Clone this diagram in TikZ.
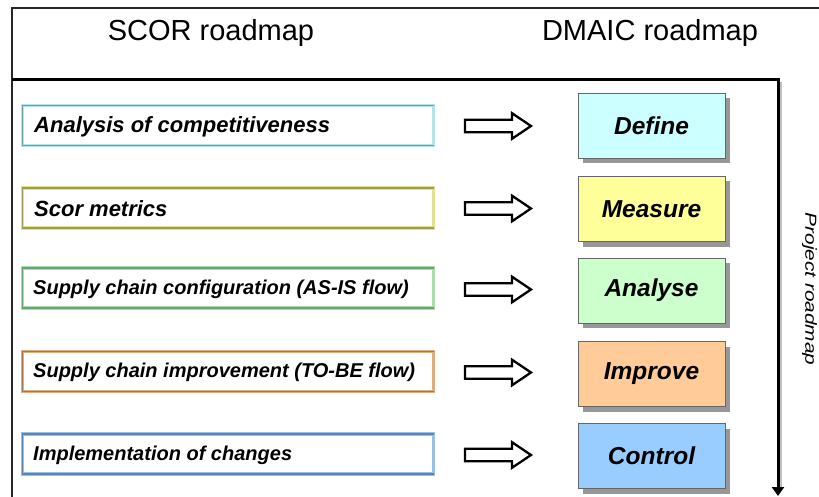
\documentclass[tikz,border=0pt]{standalone}
\usepackage{fontspec}
\setmainfont{Liberation Sans}
\usetikzlibrary{shadows,arrows.meta}
\definecolor{dA}{HTML}{6E9FA3}\definecolor{lA}{HTML}{B4E4E8}
\definecolor{dB}{HTML}{9C9C5A}\definecolor{lB}{HTML}{E2E28E}
\definecolor{dC}{HTML}{6AA276}\definecolor{lC}{HTML}{ACDCAC}
\definecolor{dD}{HTML}{A27654}\definecolor{lD}{HTML}{DCAE80}
\definecolor{dE}{HTML}{5A86B4}\definecolor{lE}{HTML}{98C0E6}
\definecolor{fA}{HTML}{CCFFFF}\definecolor{fB}{HTML}{FFFF99}
\definecolor{fC}{HTML}{CCFFCC}\definecolor{fD}{HTML}{FFCC99}
\definecolor{fE}{HTML}{99CCFF}
\tikzset{
  scorbox/.style={draw=#1, line width=3.5pt, fill=white, minimum width=411pt, minimum height=40pt, inner sep=0pt},
  scortext/.style={anchor=west, inner sep=0pt, font=\fontsize{#1}{#1}\selectfont\bfseries\itshape},
  dmaicbox/.style={draw=black!60, line width=1pt, fill=#1, minimum width=147pt, minimum height=65pt, inner sep=0pt,
    font=\fontsize{24.5}{26}\selectfont\bfseries\itshape,
    drop shadow={shadow xshift=5pt, shadow yshift=-5pt, fill=black!45, opacity=0.9}},
  hollowarrow/.style={draw=black, line width=2.3pt, fill=white, line join=miter},
  header/.style={font=\fontsize{29}{31}\selectfont},
}
\begin{document}
\begin{tikzpicture}[x=1pt,y=-1pt]
\useasboundingbox (0,0) rectangle (819,497);
\fill[white] (0,0) rectangle (819,497);
% outer frame
\draw[line width=1.5pt, black!85] (12,510) -- (12,8) -- (830,8);
% headers
\node[header] (h1) at (211,33) {SCOR roadmap};
\node[header] (h2) at (650,33) {DMAIC roadmap};
% project roadmap line
\draw[line width=2pt, black!25] (780.5,82) -- (780.5,487);
\coordinate (c0) at (12,80);
\coordinate (c1) at (778,80);
\coordinate (c2) at (778,496);
\draw[line width=3pt, -{Triangle[length=9pt,width=12pt]}] (c0) -- (c1) -- (c2);
\node[rotate=-90, inner sep=0pt, font=\fontsize{16}{16}\selectfont\itshape] (pr) at (809.5,289) {\scalebox{1.3}[1]{Project roadmap}};
% left boxes
\foreach \y/\d/\l/\n in {125.5/dA/lA/1, 208/dB/lB/2, 288/dC/lC/3, 371.5/dD/lD/4, 454/dE/lE/5}{
  \node[scorbox=\l] (s\n) at (228,\y) {};
  \draw[\d, line width=1.8pt] ([xshift=-1pt,yshift=-1.8pt]s\n.north east) -- ([xshift=1.8pt,yshift=-1.8pt]s\n.north west)
     -- ([xshift=1.8pt,yshift=1.8pt]s\n.south west) -- ([xshift=-1pt,yshift=1.8pt]s\n.south east);
}
\node[scortext=22] (t1) at (34,126.5) {Analysis of competitiveness};
\node[scortext=22] (t2) at (34,209) {Scor metrics};
\node[scortext=20] (t3) at (33,289) {Supply chain configuration (AS-IS flow)};
\node[scortext=20] (t4) at (33,372.5) {Supply chain improvement (TO-BE flow)};
\node[scortext=20] (t5) at (33,455) {Implementation of changes};
% right boxes
\node[dmaicbox=fA] (d1) at (651.5,126) {Define};
\node[dmaicbox=fB] (d2) at (651.5,209) {Measure};
\node[dmaicbox=fC] (d3) at (651.5,290.5) {Analyse};
\node[dmaicbox=fD] (d4) at (651.5,374) {Improve};
\node[dmaicbox=fE] (d5) at (651.5,456) {Control};
% hollow arrows
\foreach \y/\n in {126/1, 208.5/2, 289.5/3, 372.5/4, 455/5}{
  \coordinate (a\n) at (465,\y);
  \draw[hollowarrow] (a\n) ++(0,-6.3) -- ++(47,0) -- ++(0,-6.5) -- ++(19,12.8) -- ++(-19,12.8) -- ++(0,-6.5) -- ++(-47,0) -- cycle;
}
\end{tikzpicture}
\end{document}
